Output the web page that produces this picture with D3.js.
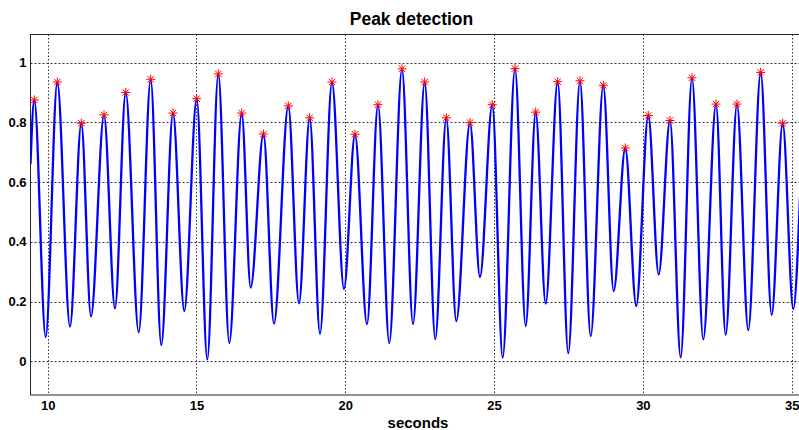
<!DOCTYPE html>
<html>
<head>
<meta charset="utf-8">
<script src="https://cdn.jsdelivr.net/npm/d3@7"></script>
<style>
  html, body { margin: 0; padding: 0; background: #fff; }
  svg { display: block; }
  text { font-family: "Liberation Sans", Arial, sans-serif; font-weight: bold; fill: #000; }
</style>
</head>
<body>
<svg id="chart" width="799" height="430"></svg>
<script>
// ---- data ----
const title = "Peak detection";
const xLabel = "seconds";
const xTicks = [10, 15, 20, 25, 30, 35];
const yTicks = [0, 0.2, 0.4, 0.6, 0.8, 1];
const xDomain = [9.422, 35.28];
const yDomain = [-0.113, 1.094];

// detected peaks (seconds, amplitude)
const peakX = [9.550, 10.323, 11.129, 11.892, 12.621, 13.461, 14.210, 15.007, 15.733, 16.519,
               17.251, 18.085, 18.804, 19.553, 20.326, 21.099, 21.905, 22.668, 23.394, 24.190,
               24.940, 25.703, 26.398, 27.137, 27.886, 28.669, 29.409, 30.181, 30.911, 31.650,
               32.457, 33.162, 33.958, 34.698];
const peakY = [0.875, 0.935, 0.797, 0.825, 0.900, 0.944, 0.831, 0.879, 0.962, 0.831,
               0.761, 0.855, 0.815, 0.935, 0.760, 0.859, 0.979, 0.935, 0.815, 0.799,
               0.859, 0.980, 0.834, 0.936, 0.939, 0.924, 0.714, 0.823, 0.806, 0.949,
               0.861, 0.861, 0.967, 0.797];
// troughs between the peaks
const troughX = [9.933, 10.749, 11.455, 12.261, 13.058, 13.817, 14.590, 15.363, 16.102, 16.821,
                 17.604, 18.444, 19.150, 19.956, 20.729, 21.478, 22.275, 23.024, 23.730, 24.526,
                 25.289, 26.062, 26.734, 27.493, 28.246, 29.019, 29.778, 30.531, 31.270, 32.030,
                 32.782, 33.542, 34.328, 35.054];
const troughY = [0.081, 0.116, 0.150, 0.177, 0.097, 0.054, 0.168, 0.006, 0.061, 0.247,
                 0.126, 0.194, 0.092, 0.242, 0.124, 0.061, 0.124, 0.074, 0.134, 0.282,
                 0.012, 0.118, 0.193, 0.027, 0.084, 0.235, 0.185, 0.291, 0.013, 0.073,
                 0.089, 0.104, 0.155, 0.175];
// signal values at the two plot edges
const startPoint = [9.422, 0.66];
const endPoint = [35.28, 0.55];

// ---- layout ----
const svg = d3.select("#chart");
const L = 30.5, R = 800, T = 34.5, B = 395;
const x = d3.scaleLinear().domain(xDomain).range([L, R]);
const y = d3.scaleLinear().domain(yDomain).range([B, T]);

// title
svg.append("text").attr("x", 411.5).attr("y", 25).attr("text-anchor", "middle")
  .style("font-size", "17.5px").text(title);

// grid
const grid = svg.append("g");
grid.selectAll("line.gx").data(xTicks).join("line")
  .attr("x1", d => Math.round(x(d)) + 0.5).attr("x2", d => Math.round(x(d)) + 0.5)
  .attr("y1", T).attr("y2", B)
  .attr("stroke", "#333").attr("stroke-width", 1).attr("stroke-dasharray", "1.5,2");
grid.selectAll("line.gy").data(yTicks).join("line")
  .attr("y1", d => Math.round(y(d)) + 0.5).attr("y2", d => Math.round(y(d)) + 0.5)
  .attr("x1", L).attr("x2", R)
  .attr("stroke", "#333").attr("stroke-width", 1).attr("stroke-dasharray", "2,2");

// axes box
svg.append("rect").attr("x", L).attr("y", T).attr("width", R - L).attr("height", B - T)
  .attr("fill", "none").attr("stroke", "#262626").attr("stroke-width", 1);

// tick labels via d3 axes (ticks hidden)
const xAxis = svg.append("g").attr("transform", `translate(0,${B})`)
  .call(d3.axisBottom(x).tickValues(xTicks).tickSize(0).tickPadding(6).tickFormat(d3.format("d")));
xAxis.select(".domain").remove();
xAxis.selectAll("text").style("font-size", "13px").style("font-family", "'Liberation Sans', Arial, sans-serif").attr("font-weight", "bold");

const yAxis = svg.append("g").attr("transform", `translate(${L},0)`)
  .call(d3.axisLeft(y).tickValues(yTicks).tickSize(0).tickPadding(4).tickFormat(d => d === 0 || d === 1 ? String(d) : d3.format(".1f")(d)));
yAxis.select(".domain").remove();
yAxis.selectAll("text").style("font-size", "13px").style("font-family", "'Liberation Sans', Arial, sans-serif").attr("font-weight", "bold");

// x label
svg.append("text").attr("x", 418).attr("y", 428).attr("text-anchor", "middle")
  .style("font-size", "15px").text(xLabel);

// signal
const pts = [startPoint];
peakX.forEach((px, i) => {
  pts.push([px, peakY[i]]);
  pts.push([troughX[i], troughY[i]]);
});
pts.push(endPoint);

svg.append("clipPath").attr("id", "clip").append("rect")
  .attr("x", L).attr("y", T).attr("width", R - L).attr("height", B - T);

const line = d3.line().x(d => x(d[0])).y(d => y(d[1])).curve(d3.curveMonotoneX);
svg.append("path").datum(pts).attr("clip-path", "url(#clip)")
  .attr("d", line).attr("fill", "none").attr("stroke", "#0000ff").attr("stroke-width", 2.3);

// peak markers (asterisks)
const s = 4.5, s2 = 3.2;
const star = `M${-s},0L${s},0M0,${-s}L0,${s}M${-s2},${-s2}L${s2},${s2}M${-s2},${s2}L${s2},${-s2}`;
svg.append("g").selectAll("path").data(peakX).join("path")
  .attr("transform", (d, i) => `translate(${x(d)},${y(peakY[i])})`)
  .attr("d", star).attr("fill", "none").attr("stroke", "#ff0000").attr("stroke-width", 1);
</script>
</body>
</html>
